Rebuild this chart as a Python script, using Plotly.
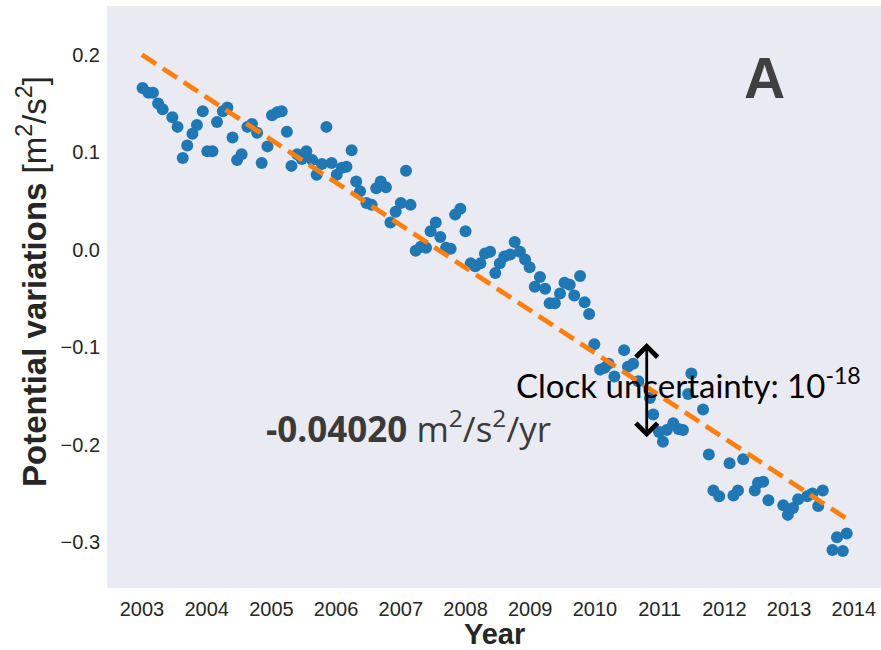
import plotly.graph_objects as go

# ---- data ----
years = [2003.01, 2003.10, 2003.17, 2003.25, 2003.32, 2003.47, 2003.55, 2003.63, 2003.70, 2003.78,
         2003.85, 2003.94, 2004.01, 2004.09, 2004.16, 2004.25, 2004.32, 2004.40, 2004.47, 2004.54,
         2004.63, 2004.70, 2004.78, 2004.85, 2004.94, 2005.01, 2005.09, 2005.16, 2005.24, 2005.31,
         2005.40, 2005.47, 2005.54, 2005.63, 2005.70, 2005.78, 2005.85, 2005.93, 2006.01, 2006.09,
         2006.16, 2006.24, 2006.31, 2006.37, 2006.47, 2006.55, 2006.62, 2006.69, 2006.77, 2006.84,
         2006.92, 2007.00, 2007.08, 2007.15, 2007.23, 2007.31, 2007.39, 2007.46, 2007.54, 2007.61,
         2007.70, 2007.77, 2007.84, 2007.92, 2008.00, 2008.08, 2008.15, 2008.23, 2008.30, 2008.38,
         2008.46, 2008.53, 2008.60, 2008.69, 2008.76, 2008.84, 2008.92, 2008.99, 2009.07, 2009.15,
         2009.23, 2009.30, 2009.38, 2009.46, 2009.53, 2009.61, 2009.68, 2009.77, 2009.84, 2009.91,
         2009.99, 2010.08, 2010.15, 2010.21, 2010.30, 2010.45, 2010.51, 2010.59, 2010.67, 2010.85,
         2010.90, 2010.99, 2011.05, 2011.11, 2011.21, 2011.29, 2011.36, 2011.44, 2011.49, 2011.67,
         2011.76, 2011.83, 2011.92, 2012.08, 2012.14, 2012.21, 2012.29, 2012.47, 2012.52, 2012.60,
         2012.68, 2012.91, 2012.98, 2013.06, 2013.14, 2013.28, 2013.36, 2013.45, 2013.52, 2013.67,
         2013.74, 2013.83, 2013.89]

potential = [0.166, 0.161, 0.161, 0.150, 0.144, 0.136, 0.126, 0.094, 0.107, 0.119,
             0.128, 0.142, 0.101, 0.101, 0.131, 0.142, 0.146, 0.115, 0.092, 0.098,
             0.126, 0.129, 0.120, 0.089, 0.106, 0.138, 0.141, 0.142, 0.121, 0.086,
             0.098, 0.093, 0.101, 0.092, 0.077, 0.088, 0.126, 0.089, 0.077, 0.084,
             0.085, 0.102, 0.070, 0.060, 0.048, 0.046, 0.063, 0.070, 0.064, 0.028,
             0.039, 0.048, 0.081, 0.046, -0.001, 0.003, 0.002, 0.019, 0.028, 0.013,
             0.002, 0.001, 0.036, 0.042, 0.019, -0.014, -0.017, -0.014, -0.004, -0.002,
             -0.024, -0.014, -0.007, -0.005, 0.008, -0.002, -0.010, -0.018, -0.038, -0.028,
             -0.040, -0.055, -0.055, -0.045, -0.034, -0.036, -0.047, -0.027, -0.054, -0.066,
             -0.097, -0.123, -0.121, -0.117, -0.130, -0.103, -0.120, -0.117, -0.135, -0.152,
             -0.169, -0.187, -0.197, -0.185, -0.178, -0.184, -0.185, -0.148, -0.127, -0.164,
             -0.210, -0.247, -0.253, -0.219, -0.252, -0.247, -0.215, -0.247, -0.239, -0.238,
             -0.257, -0.262, -0.272, -0.265, -0.256, -0.253, -0.250, -0.263, -0.247, -0.308,
             -0.295, -0.309, -0.291]

trend_years = [2003.0, 2013.96]
trend_values = [0.200, -0.279]

x_ticks = [2003, 2004, 2005, 2006, 2007, 2008, 2009, 2010, 2011, 2012, 2013, 2014]
y_ticks = [0.2, 0.1, 0.0, -0.1, -0.2, -0.3]
y_tick_labels = ["0.2", "0.1", "0.0", "\u22120.1", "\u22120.2", "\u22120.3"]

rate_text = "<b>-0.04020</b> m<sup>2</sup>/s<sup>2</sup>/yr"
clock_text = "Clock uncertainty: 10<sup>-18</sup>"
arrow_year = 2010.80
arrow_range = [-0.0957, -0.194]

# ---- figure ----
fig = go.Figure()
fig.add_trace(go.Scatter(x=years, y=potential, mode="markers",
                         marker=dict(color="#1f77b4", size=12, line=dict(width=0)),
                         showlegend=False, hoverinfo="x+y"))
fig.add_trace(go.Scatter(x=trend_years, y=trend_values, mode="lines",
                         line=dict(color="#ff7f0e", width=4.8, dash="17px,8px"),
                         showlegend=False))

tick_font = dict(family="Liberation Sans, Arial, sans-serif", size=20, color="#262626")

fig.update_layout(
    width=881, height=650,
    margin=dict(l=107, r=0, t=6, b=62),
    paper_bgcolor="white",
    plot_bgcolor="#EAEAF2",
    xaxis=dict(range=[2002.46, 2014.42], tickvals=x_ticks, ticktext=[str(v) for v in x_ticks],
               showgrid=False, zeroline=False, showline=False, ticks="",
               tickfont=tick_font, ticklabelstandoff=7),
    yaxis=dict(range=[-0.347, 0.250], tickvals=y_ticks, ticktext=y_tick_labels,
               showgrid=False, zeroline=False, showline=False, ticks="",
               tickfont=tick_font, ticklabelstandoff=6),
    font=dict(family="Liberation Sans, Arial, sans-serif"),
)

annotations = [
    # axis titles
    dict(text="<b>Year</b>", xref="paper", yref="paper", x=0.5, y=-0.079,
         xanchor="center", yanchor="middle", showarrow=False,
         font=dict(family="Liberation Sans, Arial, sans-serif", size=29, color="#262626")),
    dict(text="<b>Potential variations</b> [m<sup>2</sup>/s<sup>2</sup>]", xref="paper", yref="paper",
         x=-0.096, y=0.527, xanchor="center", yanchor="middle", textangle=-90, showarrow=False,
         font=dict(family="Liberation Sans, Arial, sans-serif", size=33, color="#262626")),
    # panel letter
    dict(text="<b>A</b>", xref="paper", yref="paper", x=0.849, y=0.876,
         xanchor="center", yanchor="middle", showarrow=False,
         font=dict(family="Liberation Sans, Arial, sans-serif", size=57, color="#404040")),
    # rate text
    dict(text=rate_text, xref="paper", yref="paper", x=0.2028, y=0.277,
         xanchor="left", yanchor="middle", showarrow=False,
         font=dict(family="Open Sans, sans-serif", size=35, color="#3a3a3a")),
    # clock arrow
    dict(text="", x=arrow_year, y=arrow_range[0], ax=arrow_year, ay=arrow_range[1],
         xref="x", yref="y", axref="x", ayref="y", showarrow=True,
         arrowhead=4, startarrowhead=4, arrowside="end+start", arrowsize=1.5,
         startarrowsize=1.5, arrowwidth=2.8, arrowcolor="black", standoff=0, startstandoff=0),
    dict(text=clock_text, xref="paper", yref="paper", x=0.5258, y=0.352,
         xanchor="left", yanchor="middle", showarrow=False,
         font=dict(family="Lato, sans-serif", size=33, color="black")),
]
fig.update_layout(annotations=annotations)

fig.write_html("out.html")
